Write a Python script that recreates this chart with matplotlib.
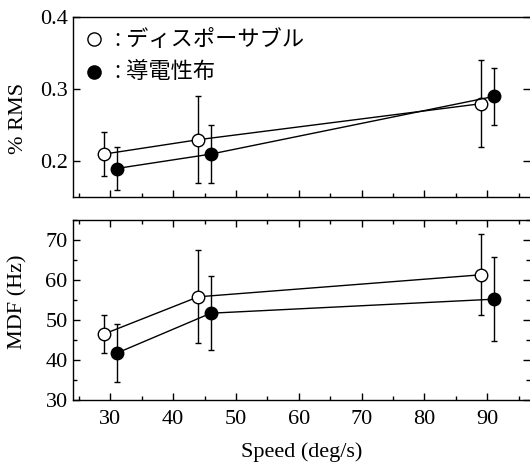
import matplotlib.pyplot as plt
from matplotlib.ticker import MultipleLocator

# ==============================================================================
# DATA
# ==============================================================================
speed_disp = [29, 44, 89]      # disposable electrodes (open circles)
speed_cond = [31, 46, 91]      # conductive cloth (filled circles)

rms_disp = [0.21, 0.23, 0.28]
rms_disp_err = [0.03, 0.06, 0.06]
rms_cond = [0.19, 0.21, 0.29]
rms_cond_err = [0.03, 0.04, 0.04]

mdf_disp = [46.5, 55.8, 61.3]
mdf_disp_err = [4.7, 11.6, 10.1]
mdf_cond = [41.7, 51.7, 55.2]
mdf_cond_err = [7.2, 9.2, 10.5]

label_disp = "ディスポーサブル"
label_cond = "導電性布"

# ==============================================================================
# STYLE
# ==============================================================================
SERIF = ["Liberation Serif", "DejaVu Serif"]
CJK = ["Noto Sans CJK JP", "DejaVu Sans"]
FS = 16

plt.rcParams["font.family"] = SERIF


def draw_series(ax, x, y, err, face):
    ax.errorbar(x, y, yerr=err, fmt="-o", color="black", mfc=face, mec="black",
                ms=9, mew=1.0, lw=1.0, elinewidth=1.0, capsize=2.5, capthick=1.0,
                zorder=3)


def style_axes(ax, top_ticks):
    ax.xaxis.set_major_locator(MultipleLocator(10))
    ax.xaxis.set_minor_locator(MultipleLocator(5))
    ax.tick_params(which="both", direction="in", labelsize=FS, width=1.0,
                   top=top_ticks, right=True, bottom=True, left=True)
    ax.tick_params(which="major", length=5)
    ax.tick_params(which="minor", length=3)
    ax.tick_params(axis="x", pad=7)
    ax.spines["right"].set_visible(False)
    for s in ("left", "top", "bottom"):
        ax.spines[s].set_linewidth(1.0)


fig = plt.figure(figsize=(5.30, 4.66), dpi=100)
ax1 = fig.add_axes([0.137, 0.5766, 0.863, 0.3863])
ax2 = fig.add_axes([0.137, 0.1416, 0.863, 0.3863])

# --- top: %RMS ---
draw_series(ax1, speed_disp, rms_disp, rms_disp_err, "white")
draw_series(ax1, speed_cond, rms_cond, rms_cond_err, "black")
ax1.set_xlim(24, 96.8)
ax1.set_ylim(0.15, 0.4)
ax1.yaxis.set_major_locator(MultipleLocator(0.1))
style_axes(ax1, top_ticks=False)
ax1.tick_params(which="minor", axis="y", left=False, right=False)
ax1.set_xticklabels([])
ax1.set_ylabel("% RMS", fontsize=FS)
ax1.yaxis.set_label_coords(-0.098, 0.44)

# legend drawn by hand: marker + text
ax1.plot([0.047], [0.878], "o", ms=9.5, mfc="white", mec="black", mew=1.0,
         transform=ax1.transAxes, clip_on=False)
ax1.plot([0.047], [0.698], "o", ms=9.5, mfc="black", mec="black", mew=1.0,
         transform=ax1.transAxes, clip_on=False)
ax1.text(0.093, 0.878, ": " + label_disp, transform=ax1.transAxes,
         fontsize=FS, family=CJK, va="center", ha="left")
ax1.text(0.093, 0.698, ": " + label_cond, transform=ax1.transAxes,
         fontsize=FS, family=CJK, va="center", ha="left")

# --- bottom: MDF ---
draw_series(ax2, speed_disp, mdf_disp, mdf_disp_err, "white")
draw_series(ax2, speed_cond, mdf_cond, mdf_cond_err, "black")
ax2.set_xlim(24, 96.8)
ax2.set_ylim(30, 75)
ax2.yaxis.set_major_locator(MultipleLocator(10))
ax2.yaxis.set_minor_locator(MultipleLocator(5))
style_axes(ax2, top_ticks=True)
ax2.set_ylabel("MDF (Hz)", fontsize=FS)
ax2.yaxis.set_label_coords(-0.098, 0.546)
ax2.set_xlabel("Speed (deg/s)", fontsize=FS, labelpad=10)

plt.savefig("out.png", dpi=100)
